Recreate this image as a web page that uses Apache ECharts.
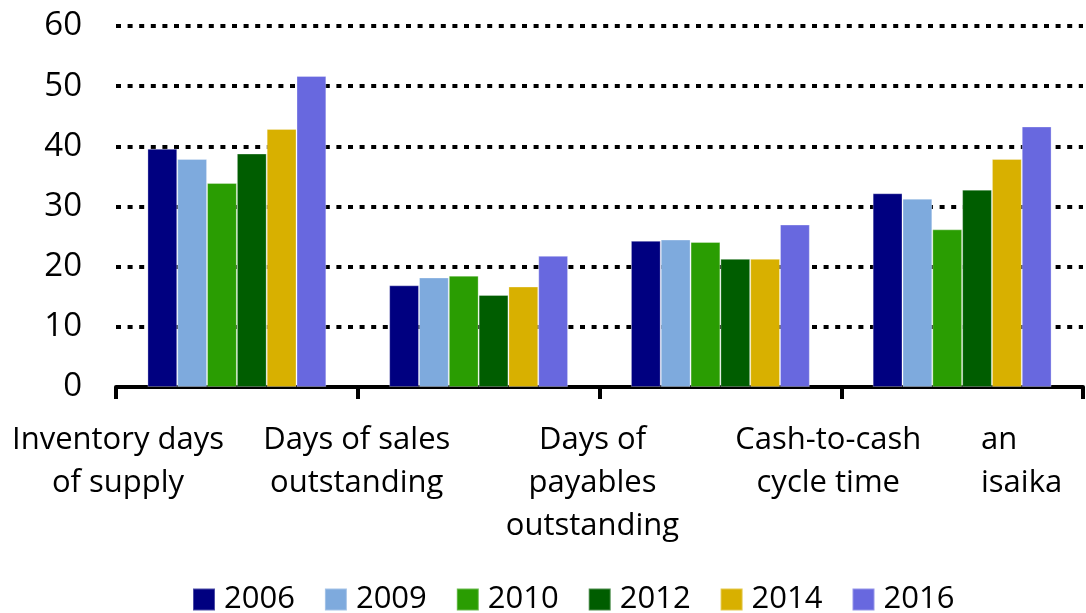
<!DOCTYPE html>
<html>
<head>
<meta charset="utf-8">
<script src="https://cdn.jsdelivr.net/npm/echarts@6/dist/echarts.min.js"></script>
<style>
  html, body { margin: 0; padding: 0; background: #fff; }
  #chart { width: 1086px; height: 613px; }
</style>
</head>
<body>
<div id="chart"></div>
<script>
// categories for bar groups
var groups = ['Inventory days of supply', 'Days of sales outstanding', 'Days of payables outstanding', 'Cash-to-cash cycle time'];
// labels as they sit under the ticks (last one is partly covered in the original)
var tickLabels = ['Inventory days\nof supply', 'Days of sales\noutstanding', 'Days of\npayables\noutstanding', 'Cash-to-cash\ncycle time', 'an\nisaika'];
var years = ['2006', '2009', '2010', '2012', '2014', '2016'];
var colors = ['#000080', '#7eaadd', '#2a9d02', '#005d00', '#d8b000', '#6868df'];

var v2006 = [39.6, 16.9, 24.3, 32.2];
var v2009 = [37.9, 18.2, 24.5, 31.3];
var v2010 = [33.9, 18.5, 24.1, 26.2];
var v2012 = [38.8, 15.3, 21.3, 32.8];
var v2014 = [42.9, 16.7, 21.3, 37.9];
var v2016 = [51.7, 21.8, 27.0, 43.3];
var yTicks = [0, 10, 20, 30, 40, 50, 60];

var allValues = [v2006, v2009, v2010, v2012, v2014, v2016];
var font = '"Open Sans", "DejaVu Sans", sans-serif';

// per-label nudges so labels sit like in the source picture
var labelPads = [[0, 0, 0, 4], [0, 2, 0, 0], [0, 14, 0, 0], [0, 26, 0, 0], [0, 0, 0, -102]];

var chart = echarts.init(document.getElementById('chart'));

var series = [];
for (var i = 0; i < years.length; i++) {
  series.push({
    name: years[i],
    type: 'bar',
    xAxisIndex: 0,
    data: allValues[i],
    barGap: '0%',
    barCategoryGap: '26%',
    itemStyle: {
      color: colors[i],
      borderColor: 'rgba(255,255,255,0.3)',
      borderWidth: 1
    }
  });
}

var option = {
  backgroundColor: '#ffffff',
  animation: false,
  color: colors,
  grid: { left: 116, right: 0, top: 26, bottom: 226, containLabel: false },
  legend: {
    data: years,
    left: 187,
    top: 579,
    itemWidth: 22,
    itemHeight: 22,
    itemGap: 29,
    icon: 'rect',
    textStyle: { fontFamily: font, fontSize: 31, color: '#000', padding: [0, 0, 0, 4] }
  },
  xAxis: [{
    type: 'category',
    data: groups,
    position: 'bottom',
    axisLine: { lineStyle: { color: '#000', width: 4 } },
    axisTick: { show: true, length: 12, lineStyle: { color: '#000', width: 4 } },
    axisLabel: { show: false },
    splitLine: { show: false }
  }, {
    type: 'category',
    boundaryGap: false,
    position: 'bottom',
    data: tickLabels.map(function (t, k) {
      return { value: t, textStyle: { padding: labelPads[k], align: k === 4 ? 'left' : 'center' } };
    }),
    axisLine: { show: false },
    axisTick: { show: false },
    axisLabel: {
      interval: 0,
      margin: 32,
      fontFamily: font,
      fontSize: 31,
      lineHeight: 43,
      color: '#000'
    }
  }],
  yAxis: {
    type: 'value',
    min: yTicks[0],
    max: yTicks[yTicks.length - 1],
    interval: 10,
    axisLine: { show: false },
    axisTick: { show: false },
    axisLabel: { margin: 34, fontFamily: font, fontSize: 33, color: '#000' },
    splitLine: { lineStyle: { color: '#000', width: 4, type: [5, 6.6] } }
  },
  series: series
};

chart.setOption(option);
</script>
</body>
</html>
